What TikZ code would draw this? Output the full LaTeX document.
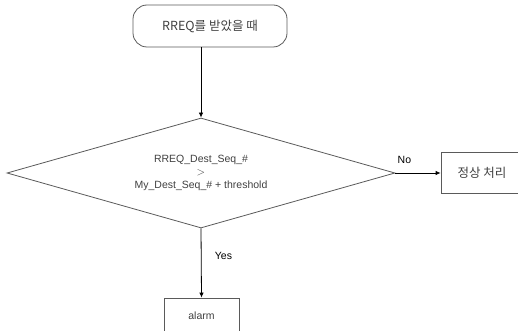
\documentclass[tikz,border=0pt]{standalone}
\usepackage{fontspec}
\setmainfont{Liberation Sans}
\newfontfamily\kr{Noto Sans CJK KR}
\usetikzlibrary{arrows.meta, positioning, shapes.geometric}
\definecolor{cline}{HTML}{5A5A5A}
\definecolor{ctext}{HTML}{404040}
\tikzset{
  every picture/.style={font=\fontsize{10.5}{14}\selectfont, line width=0.8pt},
  term/.style={draw=cline, rounded corners=14pt, align=center, minimum width=154pt, minimum height=42pt, text=ctext},
  proc/.style={draw=cline, align=center, minimum height=41pt, text=ctext},
  cond/.style={draw=cline, diamond, aspect=3.53, align=center, minimum width=388pt, minimum height=110pt, inner sep=0pt, text=ctext},
  arrow/.style={-{Latex[length=5pt, width=4.5pt]}, draw=black},
  lbl/.style={font=\fontsize{10.5}{12}\selectfont, text=black},
  krtext/.style={font=\kr\fontsize{12.5}{14}\selectfont},
}
\begin{document}
\begin{tikzpicture}[x=1pt, y=-1pt]
  \useasboundingbox (0,0) rectangle (518,331);
  \node[term, krtext] (start) at (210,26) {RREQ를 받았을 때};
  \node[cond] (check) at (201,173) {RREQ\_Dest\_Seq\_\#\\[-1pt]$>$\\[-1pt]My\_Dest\_Seq\_\# + threshold};
  \node[proc, krtext, minimum width=82pt] (normal) at (482,173) {정상 처리};
  \node[proc, minimum width=75pt, minimum height=36pt] (alarm) at (201.5,316) {alarm};
  \draw[arrow] (check.north |- start.south) -- (check.north);
  \draw[arrow] (check.east) -- node[lbl, above=6pt, pos=0.2] {No} (normal.west);
  \draw[arrow] (check.south) -- node[lbl, right=10pt, pos=0.4] {Yes} (alarm.north);
\end{tikzpicture}
\end{document}
